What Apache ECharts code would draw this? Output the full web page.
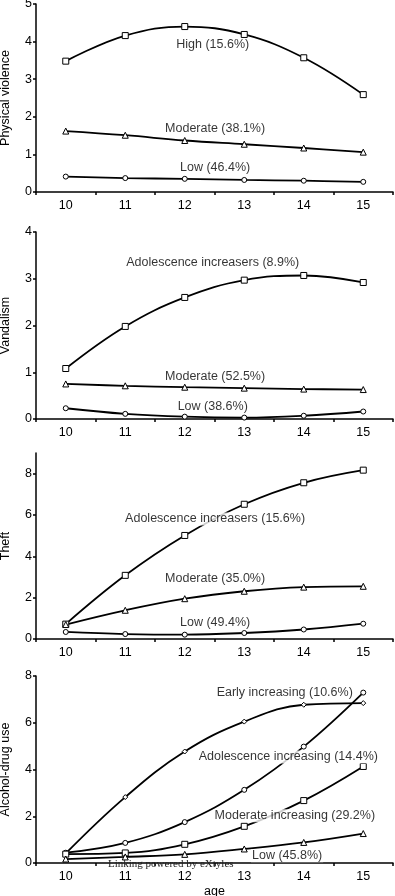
<!DOCTYPE html>
<html><head><meta charset="utf-8">
<script src="https://cdn.jsdelivr.net/npm/echarts@6/dist/echarts.min.js"></script>
<style>html,body{margin:0;padding:0;background:#fff}#c{width:395px;height:896px}</style>
</head><body><div id="c"></div>
<script>
const ages = ['10','11','12','13','14','15'];

// Panel 1: Physical violence
const pvHigh = [3.48, 4.16, 4.40, 4.19, 3.57, 2.59];
const pvModerate = [1.62, 1.51, 1.37, 1.27, 1.17, 1.06];
const pvLow = [0.41, 0.37, 0.35, 0.32, 0.30, 0.27];
// Panel 2: Vandalism
const vaAdol = [1.08, 1.98, 2.60, 2.97, 3.07, 2.92];
const vaModerate = [0.75, 0.71, 0.68, 0.66, 0.64, 0.63];
const vaLow = [0.23, 0.11, 0.05, 0.03, 0.07, 0.16];
// Panel 3: Theft
const thAdol = [0.72, 3.08, 5.01, 6.52, 7.56, 8.17];
const thModerate = [0.70, 1.39, 1.95, 2.31, 2.51, 2.55];
const thLow = [0.34, 0.24, 0.21, 0.29, 0.46, 0.74];
// Panel 4: Alcohol-drug use
const adEarly = [0.41, 2.82, 4.77, 6.05, 6.77, 6.84];
const adAdol = [0.44, 0.86, 1.75, 3.13, 4.98, 7.29];
const adModerate = [0.38, 0.43, 0.80, 1.57, 2.67, 4.13];
const adLow = [0.17, 0.26, 0.37, 0.60, 0.88, 1.26];

// Annotation labels: [x (age), y (value), text]
const pvNotes = [[12.47, 3.91, 'High (15.6%)'], [12.51, 1.70, 'Moderate (38.1%)'], [12.51, 0.66, 'Low (46.4%)']];
const vaNotes = [[12.47, 3.34, 'Adolescence increasers (8.9%)'], [12.51, 0.90, 'Moderate (52.5%)'], [12.47, 0.27, 'Low (38.6%)']];
const thNotes = [[12.51, 5.81, 'Adolescence increasers (15.6%)'], [12.51, 2.91, 'Moderate (35.0%)'], [12.51, 0.79, 'Low (49.4%)']];
const adNotes = [[13.68, 7.28, 'Early increasing (10.6%)'], [13.74, 4.54, 'Adolescence increasing (14.4%)'], [13.85, 2.02, 'Moderate increasing (29.2%)'], [13.72, 0.31, 'Low (45.8%)']];

const yTitles = ['Physical violence', 'Vandalism', 'Theft', 'Alcohol-drug use'];
const yMax = [5, 4, 9, 8];
const yInterval = [1, 1, 2, 2];
const yLabelValues = [[0,1,2,3,4,5],[0,1,2,3,4],[0,2,4,6,8],[0,2,4,6,8]];

const FONT = 'Liberation Sans, Arial, sans-serif';
const grids = [
  {left: 36, right: 2, top: 4, height: 188, outerBoundsMode: 'none', containLabel: false},
  {left: 36, right: 2, top: 232, height: 187, outerBoundsMode: 'none', containLabel: false},
  {left: 36, right: 2, top: 453, height: 186, outerBoundsMode: 'none', containLabel: false},
  {left: 36, right: 2, top: 676, height: 187, outerBoundsMode: 'none', containLabel: false}
];

const panels = [
  {series: [[pvHigh,'rect',6],[pvModerate,'triangle',6],[pvLow,'circle',5]], notes: pvNotes},
  {series: [[vaAdol,'rect',6],[vaModerate,'triangle',6],[vaLow,'circle',5]], notes: vaNotes},
  {series: [[thAdol,'rect',6],[thModerate,'triangle',6],[thLow,'circle',5]], notes: thNotes},
  {series: [[adEarly,'diamond',5],[adAdol,'circle',5],[adModerate,'rect',6],[adLow,'triangle',6]], notes: adNotes}
];

const xAxis = [], yAxis = [], series = [];
panels.forEach((p, i) => {
  xAxis.push({
    type: 'category', gridIndex: i, data: ages, boundaryGap: true,
    axisLine: {lineStyle: {color: '#000', width: 1.5}},
    axisTick: {show: true, length: 3, lineStyle: {color: '#000', width: 1.5}},
    axisLabel: {color: '#000', fontFamily: FONT, fontSize: 12.5, margin: 7},
    name: i === 3 ? 'age' : '', nameLocation: 'middle', nameGap: 22,
    nameTextStyle: {color: '#000', fontFamily: FONT, fontSize: 12.5}
  });
  xAxis.push({type: 'value', gridIndex: i, min: 9.5, max: 15.5, show: false});
  yAxis.push({
    type: 'value', gridIndex: i, min: 0, max: yMax[i], interval: yInterval[i],
    splitLine: {show: false},
    axisLine: {show: true, lineStyle: {color: '#000', width: 1.5}},
    axisTick: {show: true, length: 3, customValues: yLabelValues[i], lineStyle: {color: '#000', width: 1.5}},
    axisLabel: {color: '#000', fontFamily: FONT, fontSize: 12.5, margin: 4, customValues: yLabelValues[i]},
    name: yTitles[i], nameLocation: 'middle', nameGap: 24,
    nameTextStyle: {color: '#000', fontFamily: FONT, fontSize: 12.5}
  });
  p.series.forEach(([vals, sym, size]) => {
    series.push({
      type: 'line', xAxisIndex: 2*i, yAxisIndex: i, data: vals, smooth: 0.4,
      symbol: sym, symbolSize: size, showAllSymbol: true, z: 2,
      lineStyle: {color: '#000', width: 1.8},
      itemStyle: {color: '#fff', borderColor: '#000', borderWidth: 1},
      silent: true, animation: false
    });
  });
  series.push({
    type: 'scatter', xAxisIndex: 2*i+1, yAxisIndex: i, z: 5,
    data: p.notes.map(n => ({value: [n[0], n[1]], name: n[2]})),
    symbolSize: 0, silent: true, animation: false,
    label: {show: true, position: 'inside', formatter: '{b}', color: '#000',
      fontFamily: FONT, fontSize: 12.5, backgroundColor: '#fff', padding: [0, 1]}
  });
});

const chart = echarts.init(document.getElementById('c'), null, {renderer: 'canvas'});
chart.setOption({
  animation: false,
  backgroundColor: '#fff',
  grid: grids,
  xAxis: xAxis,
  yAxis: yAxis,
  series: series,
  graphic: [{
    type: 'text', left: 108, top: 859, z: 100,
    style: {text: 'Linking powered by eXtyles', font: '11px "Liberation Serif", serif', fill: '#222'}
  }]
});
</script></body></html>
